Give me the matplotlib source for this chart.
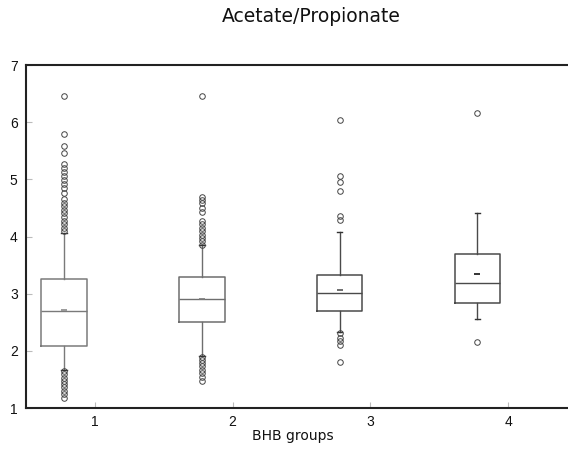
import matplotlib.pyplot as plt

plt.rcParams['font.family'] = ['Liberation Sans', 'DejaVu Sans']

groups = [1, 2, 3, 4]
q1 = [2.08, 2.51, 2.69, 2.83]
median = [2.69, 2.90, 3.02, 3.19]
q3 = [3.25, 3.29, 3.32, 3.70]
mean = [2.71, 2.91, 3.07, 3.35]
whis_lo = [1.67, 1.91, 2.33, 2.56]
whis_hi = [4.06, 3.85, 4.08, 4.41]

fliers = [
    [6.45, 5.80, 5.58, 5.46, 5.26, 5.19, 5.13, 5.05, 4.98, 4.91, 4.85, 4.76,
     4.65, 4.59, 4.53, 4.47, 4.41, 4.34, 4.27, 4.21, 4.15, 4.09,
     1.65, 1.59, 1.53, 1.47, 1.42, 1.36, 1.30, 1.24, 1.18],
    [6.45, 4.69, 4.63, 4.58, 4.50, 4.43, 4.27, 4.21, 4.15, 4.09, 4.03, 3.98,
     3.92, 3.86, 1.90, 1.84, 1.78, 1.73, 1.67, 1.61, 1.55, 1.47],
    [6.03, 5.06, 4.96, 4.80, 4.35, 4.28, 2.31, 2.23, 2.17, 2.10, 1.80],
    [6.16, 2.15],
]

line_colors = ['#7a7a7a', '#6e6e6e', '#4a4a4a', '#4a4a4a']
mean_colors = ['#8a8a8a', '#7a7a7a', '#555555', '#111111']

stats = []
for i in range(len(groups)):
    stats.append(dict(med=median[i], q1=q1[i], q3=q3[i], mean=mean[i],
                      whislo=whis_lo[i], whishi=whis_hi[i], fliers=fliers[i]))

fig = plt.figure(figsize=(5.68, 4.54), dpi=100)
ax = fig.add_axes([26 / 568, 46 / 454, 551 / 568, 343 / 454])

pos = [g - 0.223 for g in groups]
bp = ax.bxp(stats, positions=pos, widths=0.33, showmeans=True,
            capwidths=0.04, patch_artist=False,
            flierprops=dict(marker='o', markersize=4, markerfacecolor='none',
                            markeredgecolor='#444444', markeredgewidth=0.7),
            meanprops=dict(marker='_', markersize=5, markeredgewidth=1.2))

for i in range(len(groups)):
    c = line_colors[i]
    bp['boxes'][i].set_color(c)
    bp['boxes'][i].set_linewidth(1.1)
    bp['medians'][i].set_color(c)
    bp['medians'][i].set_linewidth(1.0)
    for k in (2 * i, 2 * i + 1):
        bp['whiskers'][k].set_color(c)
        bp['whiskers'][k].set_linewidth(1.0)
        bp['caps'][k].set_color('#333333')
        bp['caps'][k].set_linewidth(1.0)
    bp['means'][i].set_markeredgecolor(mean_colors[i])

ax.set_xlim(0.5, 4.5)
ax.set_ylim(1, 7)
ax.set_xticks(groups)
ax.set_xticklabels([str(g) for g in groups])
ax.set_yticks([1, 2, 3, 4, 5, 6, 7])
ax.tick_params(direction='in', length=4, width=0.8, color='#bbbbbb',
               labelsize=10, labelcolor='#111111')
ax.tick_params(axis='x', pad=5)
ax.tick_params(axis='y', pad=6)

for s in ('left', 'top', 'bottom'):
    ax.spines[s].set_linewidth(1.5)
    ax.spines[s].set_color('#222222')
ax.spines['right'].set_visible(False)

# wide sans for the labels, the originals are loosely tracked
fig.text(293 / 568, 1 - 436 / 454, 'BHB groups', fontsize=10,
         family='DejaVu Sans', ha='center', va='center', color='#111111')
fig.text(311 / 568, 1 - 16 / 454, 'Acetate/Propionate', fontsize=13.5,
         family='DejaVu Sans', ha='center', va='center', color='#111111')

fig.savefig('out.png', dpi=100)
